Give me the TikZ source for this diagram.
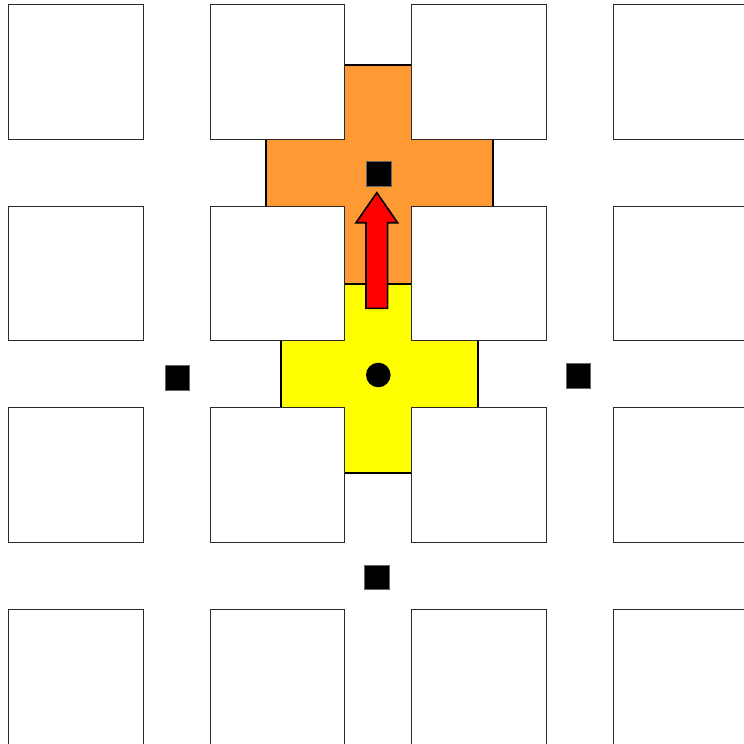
\documentclass[tikz,border=0pt]{standalone}
\usepackage{tikz}
\definecolor{cOrange}{HTML}{FF9933}
\definecolor{cYellow}{HTML}{FFFF00}
\definecolor{cRed}{HTML}{FF0000}
\definecolor{cEdge}{HTML}{2A2A2A}
\tikzset{
  block/.style={draw=cEdge,fill=white,line width=0.9pt},
  zone/.style={draw=black,fill=#1,line width=1.8pt,line join=miter},
  zone/.default=cYellow,
  stopbox/.style={fill=black,draw=black!60,line width=0.4pt,minimum size=24.6pt,inner sep=0pt},
  carbox/.style={circle,fill=black,minimum size=24.6pt,inner sep=0pt},
  movearr/.style={draw=black,fill=cRed,line width=1.6pt,line join=miter},
}

\begin{document}
\begin{tikzpicture}[x=1pt,y=-1pt]
    \useasboundingbox (0,0) rectangle (744,744);
    \clip (0,0) rectangle (744,744);
    % target zone (orange) and current zone (yellow); side edges lie under the blocks
    \draw[zone=cOrange] (340,65) -- (417,65) -- (417,132) -- (493.3,132) -- (493.3,213) -- (417,213)
      -- (417,284) -- (340,284) -- (340,213) -- (266,213) -- (266,132) -- (340,132) -- cycle;
    \draw[zone=cYellow] (340,284) -- (417,284) -- (417,334) -- (478.3,334) -- (478.3,414) -- (417,414)
      -- (417,472.7) -- (340,472.7) -- (340,414) -- (281,414) -- (281,334) -- (340,334) -- cycle;
    % blocks of the grid (4 x 4, pitch 201.6)
    \foreach \i in {0,...,3}{
      \foreach \j in {0,...,3}{
        \draw[block] (8.5+201.6*\i,4.7+201.6*\j) rectangle ++(134.5,134.5);}}
    % stops at the crossings
    \node[stopbox] (sN) at (378.7,173.7) {};
    \node[stopbox] (sW) at (177.3,377.7) {};
    \node[stopbox] (sE) at (578.3,375.7) {};
    \node[stopbox] (sS) at (376.8,577) {};
    % current position
    \node[carbox] (car) at (378.3,375) {};
    % move to the north stop
    \draw[movearr] (376.8,192.7) -- (397.6,222.7) -- (387.6,222.7) -- (387.6,308.3) -- (366,308.3)
      -- (366,222.7) -- (356,222.7) -- cycle;
\end{tikzpicture}
\end{document}
